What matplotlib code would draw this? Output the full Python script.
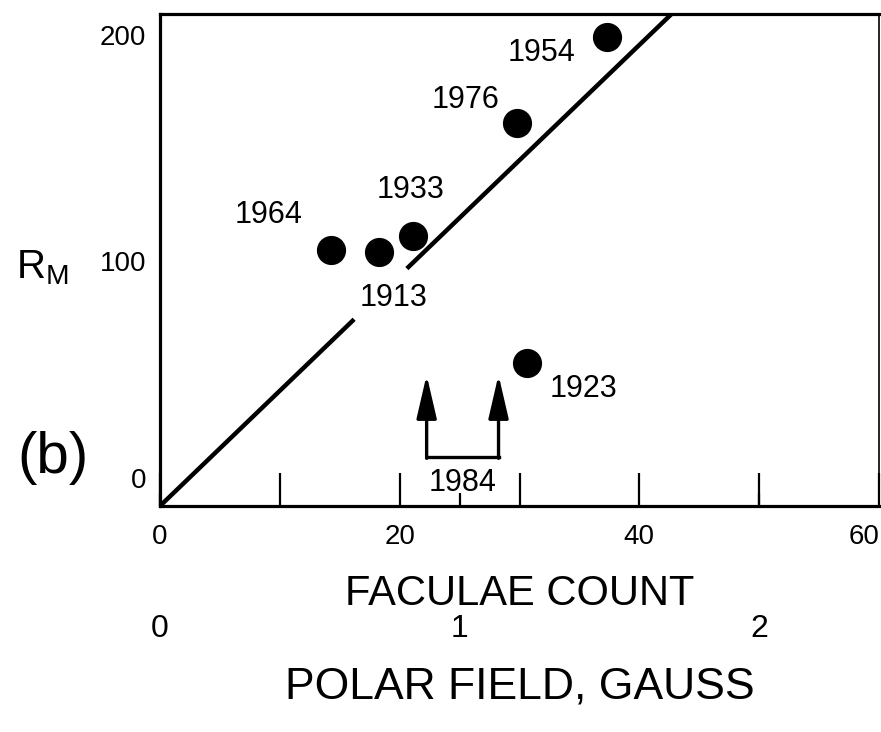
import numpy as np
import matplotlib
matplotlib.use("Agg")
import matplotlib.pyplot as plt
from matplotlib.transforms import ScaledTranslation

plt.rcParams['font.family'] = ['Liberation Sans', 'DejaVu Sans']
plt.rcParams['mathtext.fontset'] = 'custom'
plt.rcParams['mathtext.rm'] = 'Liberation Sans'
plt.rcParams['mathtext.it'] = 'Liberation Sans'

# cycle maxima: faculae count vs. max sunspot number
years = ['1954', '1976', '1964', '1913', '1933', '1923']
faculae = [37.3, 29.8, 14.3, 18.3, 21.1, 30.6]
r_max = [199, 161, 105, 104, 111, 55]

# fit line, broken where the 1913 label sits
fit_slope = 5.1
fit_icpt = -8.4
fit_pieces = [(0.0, 16.2), (20.6, 42.7)]

# 1984 prediction range (polar field, gauss) and arrow heights
pred_field = [0.89, 1.13]
pred_base = 13.3
pred_tip = 49.6

gauss_to_fac = 25.0

fig = plt.figure(figsize=(8.81, 7.32), dpi=100)
ax = fig.add_axes([160/881, 1-506/732, (879-160)/881, (506-14)/732])

ax.set_xlim(0, 60)
ax.set_ylim(-8.4, 209.3)

for x0, x1 in fit_pieces:
    xs = np.array([x0, x1])
    ax.plot(xs, fit_icpt + fit_slope*xs, color='black', lw=3.2, solid_capstyle='butt')

ax.plot(faculae, r_max, 'o', color='black', ms=20, zorder=3)

# label offsets in points (dx, dy)
offs = {'1954': (-47, -11), '1976': (-37, 17), '1964': (-45, 25),
        '1913': (10, -33), '1933': (-2, 33), '1923': (41, -19)}
for yr, x, y in zip(years, faculae, r_max):
    ax.annotate(yr, (x, y), xytext=offs[yr], textcoords='offset points',
                ha='center', va='center', fontsize=22)

# 1984 bracket with arrows
px = [g*gauss_to_fac for g in pred_field]
ax.plot(px, [pred_base, pred_base], color='black', lw=2.4)
for x in px:
    ax.annotate('', xy=(x, pred_tip), xytext=(x, pred_base - 0.6),
                arrowprops=dict(arrowstyle='-|>,head_length=0.95,head_width=0.22',
                                mutation_scale=28, lw=2.4, color='black',
                                shrinkA=0, shrinkB=0))
ax.text(np.mean(px), pred_base - 5, '1984', ha='center', va='top', fontsize=22)

# axes frame
for s in ['left', 'bottom', 'top']:
    ax.spines[s].set_linewidth(2.3)
ax.spines['right'].set_linewidth(1.2)

ax.set_xticks([0, 20, 40, 60])
ax.set_xticks([10, 30, 50], minor=True)
ax.tick_params(axis='x', which='both', direction='in', length=24, width=1.6,
               labelsize=20, pad=13)
xl = ax.get_xticklabels()
xl[-1].set_horizontalalignment('right')
ax.set_xlabel('FACULAE COUNT', fontsize=30, labelpad=17)

ax.set_yticks([0, 100, 200])
ax.set_yticks([100], minor=True)
ax.tick_params(axis='y', which='major', length=0, labelsize=20, pad=10)
ax.tick_params(axis='y', which='minor', direction='in', length=20, width=1.6)
yl = ax.get_yticklabels()
yl[0].set_transform(yl[0].get_transform() + ScaledTranslation(0, 9/100, fig.dpi_scale_trans))

sec = ax.secondary_xaxis('bottom', functions=(lambda x: x/gauss_to_fac,
                                              lambda g: g*gauss_to_fac))
sec.set_xticks([0, 1, 2])
sec.tick_params(direction='in', length=9.5, width=1.6, labelsize=23, pad=78)
sec.spines['bottom'].set_visible(False)
sec.set_xlabel('POLAR FIELD, GAUSS', fontsize=32, labelpad=16)

fig.text(42/881, 1-268/732, r'R$_\mathrm{M}$', fontsize=29, ha='center', va='center')
fig.text(53/881, 1-458/732, '(b)', fontsize=42, ha='center', va='center')

fig.savefig('out.png', dpi=100)
